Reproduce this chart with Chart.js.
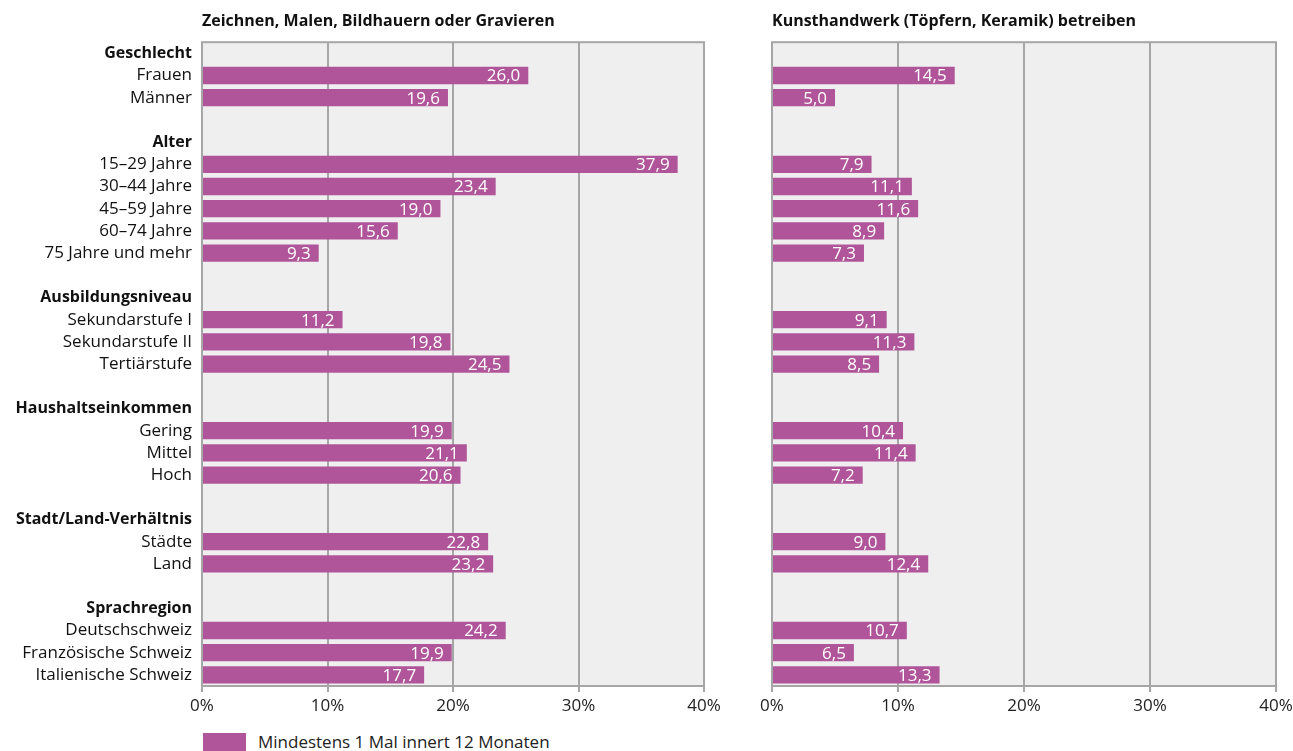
<!DOCTYPE html>
<html>
<head>
<meta charset="utf-8">
<script src="https://cdn.jsdelivr.net/npm/chart.js@4"></script>
<style>
  body { margin: 0; background: #fff; font-family: "Open Sans", sans-serif; }
  #left { position: absolute; left: 0; top: 0; }
  #right { position: absolute; left: 720px; top: 0; }
  .legend { position: absolute; left: 203px; top: 731px; font-size: 17px; line-height: 22px; color: #222; white-space: nowrap; }
  .legend span.box { display: inline-block; width: 43px; height: 20px; background: #B0559A; vertical-align: top; margin-top: 2px; margin-right: 12px; }
</style>
</head>
<body>
<canvas id="left" width="720" height="726"></canvas>
<canvas id="right" width="573" height="726"></canvas>
<div class="legend"><span class="box"></span>Mindestens 1 Mal innert 12 Monaten</div>
<script>
const rows = [
  "Geschlecht", "Frauen", "Männer", "",
  "Alter", "15–29 Jahre", "30–44 Jahre", "45–59 Jahre", "60–74 Jahre", "75 Jahre und mehr", "",
  "Ausbildungsniveau", "Sekundarstufe I", "Sekundarstufe II", "Tertiärstufe", "",
  "Haushaltseinkommen", "Gering", "Mittel", "Hoch", "",
  "Stadt/Land-Verhältnis", "Städte", "Land", "",
  "Sprachregion", "Deutschschweiz", "Französische Schweiz", "Italienische Schweiz"
];
const headers = ["Geschlecht", "Alter", "Ausbildungsniveau", "Haushaltseinkommen", "Stadt/Land-Verhältnis", "Sprachregion"];

const zeichnen = [
  null, 26.0, 19.6, null,
  null, 37.9, 23.4, 19.0, 15.6, 9.3, null,
  null, 11.2, 19.8, 24.5, null,
  null, 19.9, 21.1, 20.6, null,
  null, 22.8, 23.2, null,
  null, 24.2, 19.9, 17.7
];
const kunsthandwerk = [
  null, 14.5, 5.0, null,
  null, 7.9, 11.1, 11.6, 8.9, 7.3, null,
  null, 9.1, 11.3, 8.5, null,
  null, 10.4, 11.4, 7.2, null,
  null, 9.0, 12.4, null,
  null, 10.7, 6.5, 13.3
];
const xTicks = [0, 10, 20, 30, 40];

const FONT = "'Open Sans', sans-serif";
const GRID = "#A6A6A6";
const BAR = "#B0559A";

const panelBox = {
  id: "panelBox",
  beforeDraw(chart) {
    const a = chart.chartArea, c = chart.ctx;
    c.save();
    c.fillStyle = "#EFEFEF";
    c.fillRect(a.left, a.top, a.right - a.left, a.bottom - a.top);
    c.restore();
  },
  beforeDatasetsDraw(chart) {
    const a = chart.chartArea, c = chart.ctx;
    c.save();
    c.strokeStyle = GRID;
    c.lineWidth = 2;
    c.strokeRect(a.left, a.top, a.right - a.left, a.bottom - a.top);
    c.restore();
  }
};

// value labels inside the bar end
const valueLabels = {
  id: "valueLabels",
  afterDatasetsDraw(chart) {
    const c = chart.ctx;
    const meta = chart.getDatasetMeta(0);
    const data = chart.data.datasets[0].data;
    c.save();
    c.fillStyle = "#fff";
    c.font = "17px " + FONT;
    c.textAlign = "right";
    c.textBaseline = "middle";
    meta.data.forEach((bar, i) => {
      if (data[i] == null) return;
      c.fillText(data[i].toFixed(1).replace(".", ","), bar.x - 8, bar.y + 1);
    });
    c.restore();
  }
};

function makeChart(id, title, values, showLabels, yWidth, padRight) {
  return new Chart(document.getElementById(id), {
    type: "bar",
    data: {
      labels: rows,
      datasets: [{
        data: values,
        backgroundColor: BAR,
        barPercentage: 0.78,
        categoryPercentage: 1
      }]
    },
    plugins: [panelBox, valueLabels],
    options: {
      indexAxis: "y",
      responsive: false,
      animation: false,
      layout: { padding: { top: 0, right: padRight, left: 0, bottom: 0 } },
      plugins: {
        legend: { display: false },
        tooltip: { enabled: false },
        title: {
          display: true,
          text: title,
          align: "start",
          fullSize: false,
          color: "#111",
          font: { family: FONT, size: 16, weight: "bold" },
          padding: { top: 12, bottom: 11 }
        }
      },
      scales: {
        x: {
          min: 0,
          max: 40,
          afterBuildTicks: s => { s.ticks = xTicks.map(v => ({ value: v })); },
          afterFit: s => { s.height = 40; s.paddingLeft = 0; s.paddingRight = 0; },
          grid: { color: GRID, lineWidth: 2, tickLength: 6 },
          border: { display: false },
          ticks: {
            color: "#222",
            padding: 4,
            maxRotation: 0,
            font: { family: FONT, size: 17 },
            callback: v => v + "%"
          }
        },
        y: {
          afterFit: s => { s.width = yWidth; },
          grid: { display: false, drawTicks: false, tickLength: 0 },
          border: { display: false },
          ticks: {
            display: showLabels,
            autoSkip: false,
            padding: 10,
            color: "#111",
            font: ctx => {
              const head = headers.includes(rows[ctx.index]);
              return { family: FONT, size: head ? 16 : 17, weight: head ? "bold" : "normal" };
            }
          }
        }
      }
    }
  });
}

makeChart("left", "Zeichnen, Malen, Bildhauern oder Gravieren", zeichnen, true, 202, 16);
makeChart("right", "Kunsthandwerk (Töpfern, Keramik) betreiben", kunsthandwerk, false, 52, 17);
</script>
</body>
</html>
